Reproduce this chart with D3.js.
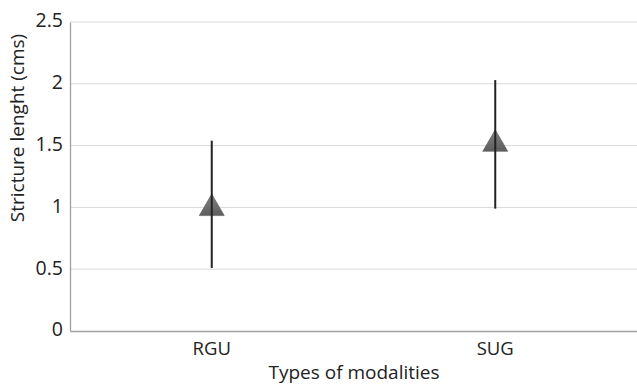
<!DOCTYPE html>
<html>
<head>
<meta charset="utf-8">
<script src="https://cdn.jsdelivr.net/npm/d3@7"></script>
<style>
body { margin: 0; background: #fff; }
text { font-family: "Open Sans", sans-serif; fill: #222; }
</style>
</head>
<body>
<script>
const categories = ["RGU", "SUG"]
const means = [1.0, 1.52]
const lows = [0.51, 0.99]
const highs = [1.54, 2.03]
const yTicks = [0, 0.5, 1, 1.5, 2, 2.5]

const W = 637, H = 385
const m = { left: 70, right: 0, top: 22, bottom: 54 }

const svg = d3.select("body").append("svg").attr("width", W).attr("height", H)

const grad = svg.append("defs").append("linearGradient").attr("id", "tg")
  .attr("x1", 0).attr("x2", 0).attr("y1", 0).attr("y2", 1)
grad.append("stop").attr("offset", "0%").attr("stop-color", "#808080")
grad.append("stop").attr("offset", "100%").attr("stop-color", "#5e5e5e")

const x = d3.scaleBand().domain(categories).range([m.left, W - m.right])
const y = d3.scaleLinear().domain([0, 2.5]).range([H - m.bottom, m.top])

// grid
svg.selectAll("line.grid").data(yTicks.slice(1)).enter().append("line")
  .attr("x1", m.left).attr("x2", W - m.right)
  .attr("y1", d => y(d)).attr("y2", d => y(d))
  .attr("stroke", "#d9d9d9").attr("stroke-width", 1)

// y axis
const yAxis = svg.append("g").attr("transform", `translate(${m.left},0)`)
  .call(d3.axisLeft(y).tickValues(yTicks).tickSize(0).tickPadding(7).tickFormat(d3.format("")))
yAxis.select(".domain").attr("stroke", "#a0a0a0").attr("stroke-width", 1.3)
yAxis.selectAll("text").style("font-size", "19.5px").attr("fill", "#222").attr("dy", "0.25em")

// x axis
const xAxis = svg.append("g").attr("transform", `translate(0,${H - m.bottom})`)
  .call(d3.axisBottom(x).tickSize(0).tickPadding(11))
xAxis.select(".domain").attr("stroke", "#a0a0a0").attr("stroke-width", 1.3)
xAxis.selectAll("text").style("font-size", "18.5px").attr("fill", "#222")

const cx = d => x(d) + x.bandwidth() / 2

// markers
const tri = d3.symbol().type(d3.symbolTriangle).size(270)
svg.selectAll("path.mark").data(categories).enter().append("path")
  .attr("class", "mark")
  .attr("d", tri)
  .attr("transform", (d, i) => `translate(${cx(d)},${y(means[i]) + 1})`)
  .attr("fill", "url(#tg)")
  .attr("stroke", "#5a5a5a").attr("stroke-width", 0.6)

// ranges
svg.selectAll("line.range").data(categories).enter().append("line")
  .attr("x1", d => cx(d)).attr("x2", d => cx(d))
  .attr("y1", (d, i) => y(lows[i])).attr("y2", (d, i) => y(highs[i]))
  .attr("stroke", "#222").attr("stroke-width", 2)

// titles
svg.append("text").attr("x", 354).attr("y", 379).attr("text-anchor", "middle")
  .style("font-size", "19px").text("Types of modalities")
svg.append("text").attr("transform", `translate(24,128) rotate(-90)`)
  .attr("text-anchor", "middle").style("font-size", "19px").text("Stricture lenght (cms)")
</script>
</body>
</html>
